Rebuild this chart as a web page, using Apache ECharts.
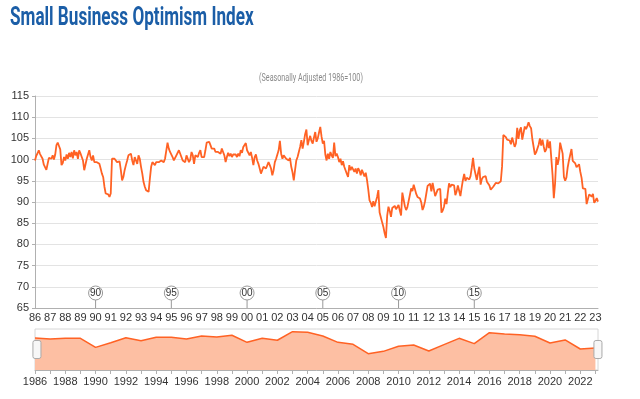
<!DOCTYPE html>
<html>
<head>
<meta charset="utf-8">
<title>Small Business Optimism Index</title>
<script src="https://cdn.jsdelivr.net/npm/echarts@6/dist/echarts.min.js"></script>
<style>
  html, body { margin: 0; padding: 0; background: #fff; }
  #chart { width: 640px; height: 399px; }
</style>
</head>
<body>
<div id="chart"></div>
<script>
// monthly index values, Jan 1986 .. Mar 2023
var idx1980s = [
  99.8,100.9,101.5,102.2,101.3,101.0,100.2,98.8,98.6,97.6,97.3,100.4,
  100.8,100.2,101.0,100.0,101.2,103.4,104.0,103.2,102.4,98.7,99.2,100.6,
  99.8,101.2,100.2,101.6,100.6,101.8,100.3,102.2,101.0,101.8,100.2,102.2,
  101.5,101.8,99.8,97.5,97.1,100.2,100.6,102.2,100.6,99.8,101.0,99.4
];
var idx1990s = [
  99.8,99.4,99.8,99.0,97.9,96.7,95.9,93.6,92.0,91.6,91.8,91.2,
  92.0,100.2,99.8,100.2,100.6,99.4,99.0,99.6,97.5,95.1,95.9,97.5,
  98.7,99.8,101.0,101.2,101.4,99.8,98.7,100.6,101.0,99.0,101.0,100.2,
  98.3,96.7,94.7,93.6,92.8,93.2,92.4,95.5,98.3,99.4,99.8,98.7,
  99.4,99.8,99.4,99.0,99.8,100.2,99.4,100.2,99.8,104.0,102.6,101.8,
  102.2,100.6,99.8,100.2,101.0,101.4,102.2,101.8,100.6,99.8,100.2,99.4,
  101.0,100.6,99.4,100.0,101.8,101.0,99.0,101.0,101.4,100.6,101.6,102.2,
  100.6,101.0,100.6,102.2,104.0,103.8,104.2,103.4,102.6,102.2,102.6,101.8,
  102.2,101.8,102.2,101.4,102.6,101.8,101.0,99.4,100.6,101.6,100.8,101.4,
  100.6,101.2,100.8,101.2,100.6,101.4,100.8,102.2,101.6,103.0,103.4,103.9
];
var idx2000s = [
  102.2,102.6,101.0,101.8,100.4,98.7,100.6,101.2,99.8,99.0,97.9,96.7,
  96.3,98.3,98.7,97.9,98.3,99.4,98.7,97.9,96.3,97.5,99.4,100.2,
  100.6,102.2,104.4,101.4,100.2,101.0,100.6,100.2,100.6,99.8,100.4,98.3,
  97.0,95.1,97.5,99.8,100.6,101.8,103.0,104.6,102.6,104.2,106.0,107.1,
  103.4,104.6,105.6,104.4,103.8,105.2,106.5,104.2,105.0,106.4,107.7,105.4,
  103.8,104.4,101.2,99.8,101.4,100.2,101.8,101.0,100.4,104.0,100.8,101.4,
  100.6,99.4,100.2,98.7,99.6,98.3,97.5,96.7,95.9,98.7,97.5,98.3,
  98.7,97.1,97.9,96.7,98.0,97.4,96.3,97.6,96.8,96.0,96.9,95.2,
  93.0,90.4,89.8,88.8,90.2,89.0,88.6,91.2,92.8,87.5,87.8,85.2,
  84.1,82.6,81.5,86.8,88.9,87.9,86.5,88.6,88.8,89.1,88.3,88.0
];
var idx2010s = [
  89.3,88.0,86.8,92.2,92.2,89.0,88.1,88.8,89.0,91.7,93.2,92.6,
  94.1,94.5,91.9,91.2,90.9,90.8,89.9,88.1,88.9,90.2,92.0,93.8,
  93.9,94.3,92.5,94.5,94.4,91.4,91.2,92.9,92.8,93.1,87.5,88.0,
  88.9,90.8,89.5,92.1,94.4,93.5,94.1,94.0,93.9,91.6,92.5,93.9,
  94.1,91.4,93.4,95.2,96.6,95.0,95.7,96.1,95.3,96.1,98.1,100.4,
  97.9,98.0,95.2,96.9,98.3,94.1,95.4,95.9,96.1,96.1,94.8,95.2,
  93.9,92.9,92.6,93.6,93.8,94.5,94.6,94.4,94.1,94.9,98.4,105.8,
  105.9,105.3,104.7,104.5,104.5,103.6,105.2,105.3,103.0,103.8,107.5,104.9,
  106.9,107.6,104.7,104.8,107.8,107.2,107.9,108.8,107.9,107.4,104.8,104.4,
  101.2,101.7,101.8,103.5,105.0,103.3,104.7,103.1,101.8,102.4,104.7,102.7
];
var idx2020s = [
  104.3,104.5,96.4,90.9,94.4,100.6,98.8,100.2,104.0,104.0,101.4,95.9,
  95.0,95.8,98.2,99.8,99.6,102.5,99.7,100.1,99.1,98.2,98.4,98.9,
  97.1,95.7,93.2,93.2,93.1,89.5,89.9,91.8,92.1,91.3,91.9,89.8,
  90.3,90.9,90.1
];

// navigator (yearly points)
var navYears = [1986,1987,1988,1989,1990,1991,1992,1993,1994,1995,1996,1997,1998,1999,
  2000,2001,2002,2003,2004,2005,2006,2007,2008,2009,2010,2011,2012,2013,2014,2015,
  2016,2017,2018,2019,2020,2021,2022,2023];
var navValues = [101.2,100.2,100.9,100.9,92.1,96.6,101.5,98.6,101.9,101.9,100.2,103.2,102.2,103.9,
  97.0,100.9,99.0,107.4,106.8,103.2,97.0,95.1,85.9,88.2,93.1,94.4,88.5,94.7,100.9,95.7,
  106.4,105.1,104.4,102.9,96.3,99.3,90.5,91.5];

// flag markers on the main chart
var flagMonths = ['1990-01','1995-01','2000-01','2005-01','2010-01','2015-01'];
var flagLabels = ['90','95','00','05','10','15'];

var values = idx1980s.concat(idx1990s, idx2000s, idx2010s, idx2020s);
var months = [];
for (var i = 0; i < values.length; i++) {
  var y = 1986 + Math.floor(i / 12), m = i % 12 + 1;
  months.push(y + '-' + (m < 10 ? '0' + m : m));
}

var myChart = echarts.init(document.getElementById('chart'));
var option = {
  animation: false,
  // condensed headline look: Roboto squeezed horizontally
  graphic: [{
    type: 'text',
    x: 10, y: 6,
    scaleX: 0.685,
    style: {
      text: 'Small Business Optimism Index',
      font: 'bold 25px Roboto',
      fill: '#1b5ea7',
      verticalAlign: 'top'
    }
  }, {
    type: 'text',
    x: 311, y: 78,
    scaleX: 0.72,
    style: {
      text: '(Seasonally Adjusted 1986=100)',
      font: '10px Roboto',
      fill: '#8a8a8a',
      align: 'center',
      verticalAlign: 'middle'
    }
  }],
  grid: [
    { left: 35, right: 42, top: 96, height: 212 },
    { left: 35, right: 42, top: 329, height: 41, show: true, borderColor: '#d6d6d6', borderWidth: 1 }
  ],
  xAxis: [{
    type: 'category',
    gridIndex: 0,
    data: months,
    boundaryGap: false,
    axisLine: { lineStyle: { color: '#b0b0b0' } },
    axisTick: { show: false },
    axisLabel: {
      interval: function (i, v) { return v.slice(5) === '01'; },
      formatter: function (v) { return v.slice(2, 4); },
      color: '#333', fontSize: 11, margin: 4, fontFamily: 'Liberation Sans'
    },
    splitLine: { show: false }
  }, {
    type: 'value',
    gridIndex: 1,
    min: 1986, max: 2023.17, interval: 1,
    axisLine: { lineStyle: { color: '#b0b0b0' } },
    axisTick: { show: true, length: 4, lineStyle: { color: '#b0b0b0' } },
    axisLabel: {
      showMaxLabel: false,
      formatter: function (v) { return (v % 2 === 0) ? String(v) : ''; },
      color: '#333', fontSize: 11, margin: 6, fontFamily: 'Liberation Sans'
    },
    splitLine: { show: false }
  }],
  yAxis: [{
    type: 'value',
    gridIndex: 0,
    min: 65, max: 115, interval: 5,
    axisLine: { show: true, lineStyle: { color: '#b0b0b0' } },
    axisTick: { show: true, length: 3, lineStyle: { color: '#b0b0b0' } },
    axisLabel: { color: '#333', fontSize: 11, margin: 6, fontFamily: 'Liberation Sans' },
    splitLine: { lineStyle: { color: '#e3e3e3' } }
  }, {
    type: 'value',
    gridIndex: 1,
    min: 70, max: 110,
    show: false,
    splitLine: { show: false }
  }],
  dataZoom: [{
    type: 'slider',
    xAxisIndex: 0,
    start: 0, end: 100,
    left: 35, right: 42, top: 329, height: 41,
    showDataShadow: false,
    showDetail: false,
    brushSelect: false,
    moveHandleSize: 0,
    backgroundColor: 'rgba(0,0,0,0)',
    fillerColor: 'rgba(0,0,0,0)',
    borderColor: 'rgba(0,0,0,0)',
    handleIcon: 'path://M2,0H6A2,2,0,0,1,8,2V16A2,2,0,0,1,6,18H2A2,2,0,0,1,0,16V2A2,2,0,0,1,2,0Z',
    handleSize: '44%',
    handleStyle: { color: '#f7f7f7', borderColor: '#aaa', borderWidth: 1 }
  }],
  series: [{
    name: 'Optimism Index',
    type: 'line',
    xAxisIndex: 0, yAxisIndex: 0,
    data: values,
    showSymbol: false,
    lineStyle: { color: '#ff6224', width: 1.8 },
    z: 3
  }, {
    type: 'custom',
    xAxisIndex: 0, yAxisIndex: 0,
    data: flagMonths.map(function (d) { return [d, 65]; }),
    renderItem: function (params, api) {
      var p = api.coord([api.value(0), 65]);
      var x = p[0], y = p[1];
      return {
        type: 'group',
        children: [{
          type: 'line',
          shape: { x1: x, y1: y, x2: x, y2: y - 8 },
          style: { stroke: '#999', lineWidth: 1 }
        }, {
          type: 'circle',
          shape: { cx: x, cy: y - 15, r: 7 },
          style: { fill: '#fff', stroke: '#999', lineWidth: 1 }
        }, {
          type: 'text',
          style: {
            x: x, y: y - 15, text: flagLabels[params.dataIndex],
            align: 'center', verticalAlign: 'middle',
            fontSize: 10, fontFamily: 'Liberation Sans', fill: '#333'
          }
        }]
      };
    },
    z: 4
  }, {
    name: 'Navigator',
    type: 'line',
    xAxisIndex: 1, yAxisIndex: 1,
    data: navYears.map(function (yr, i) { return [yr, navValues[i]]; }),
    showSymbol: false,
    lineStyle: { color: '#ff6224', width: 1.5 },
    areaStyle: { color: '#fdbfa3', opacity: 1, origin: 'start' }
  }]
};
myChart.setOption(option);
</script>
</body>
</html>
